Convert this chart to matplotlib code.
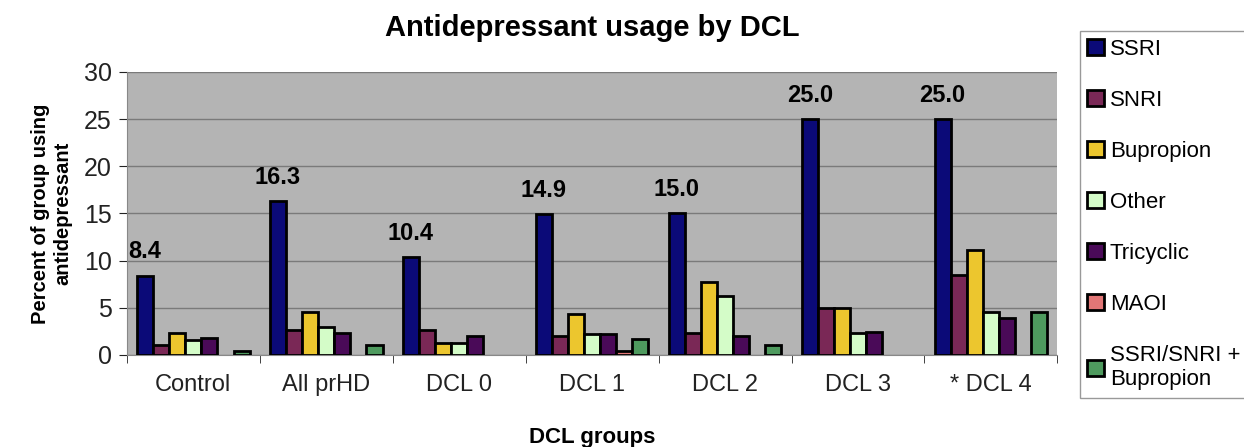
import numpy as np
import matplotlib.pyplot as plt

plt.rcParams['font.family'] = ['Liberation Sans', 'DejaVu Sans']

groups = ["Control", "All prHD", "DCL 0", "DCL 1", "DCL 2", "DCL 3", "* DCL 4"]
drug_names = ["SSRI", "SNRI", "Bupropion", "Other", "Tricyclic", "MAOI", "SSRI/SNRI +\nBupropion"]

ssri = [8.4, 16.3, 10.4, 14.9, 15.0, 25.0, 25.0]
snri = [1.0, 2.6, 2.6, 2.0, 2.3, 5.0, 8.5]
bupropion = [2.3, 4.6, 1.3, 4.3, 7.7, 5.0, 11.1]
other = [1.6, 3.0, 1.3, 2.2, 6.2, 2.3, 4.6]
tricyclic = [1.8, 2.3, 2.0, 2.2, 2.0, 2.4, 3.9]
maoi = [0, 0, 0, 0.4, 0, 0, 0]
combo = [0.4, 1.0, 0, 1.7, 1.0, 0, 4.6]

series = [ssri, snri, bupropion, other, tricyclic, maoi, combo]
colors = ["#0b0a78", "#7a2856", "#ecc62e", "#d4fcc8", "#4a0a58", "#e27676", "#4e9a5e"]

fig = plt.figure(figsize=(12.44, 4.47), dpi=100)
ax = fig.add_axes([0.102, 0.206, 0.748, 0.633])
ax.set_facecolor("#b4b4b4")

x = np.arange(len(groups))
w = 0.121
for i, (vals, c, name) in enumerate(zip(series, colors, drug_names)):
    pos = x + (i - 3) * w
    h = np.array(vals, dtype=float)
    h[h == 0] = np.nan  # empty cells: no bar drawn
    ax.bar(pos, h, width=w, color=c, edgecolor="black", linewidth=2, label=name, zorder=3)

# value labels on the SSRI bars
for xi, v in zip(x, ssri):
    ax.text(xi - 3 * w, v + 1.3, f"{v:.1f}", ha="center", va="bottom",
            fontsize=17, fontweight="bold", zorder=4)

ax.set_xlim(-0.5, len(groups) - 0.5)
ax.set_ylim(0, 30)
ax.set_yticks(range(0, 31, 5))
ax.yaxis.grid(True, color="#7a7a7a", linewidth=1, zorder=0)
ax.set_xticks(x)
ax.set_xticklabels(groups)
ax.set_xticks(np.arange(-0.5, len(groups), 1), minor=True)
ax.tick_params(axis="x", which="major", length=0, labelsize=17, pad=14)
ax.tick_params(axis="x", which="minor", length=6, color="#555555")
ax.tick_params(axis="y", length=6, labelsize=18, color="#555555", pad=5)
ax.tick_params(colors="#222222", which="both")
for s in ["top", "right"]:
    ax.spines[s].set_visible(False)
ax.spines["left"].set_color("#888888")
ax.spines["bottom"].set_color("#888888")

ax.set_xlabel("DCL groups", fontsize=16, fontweight="bold", labelpad=22)
ax.set_ylabel("Percent of group using\nantidepressant", fontsize=14.5, fontweight="bold", labelpad=8)
ax.set_title("Antidepressant usage by DCL", fontsize=21, fontweight="bold", pad=26)

fig.legend(loc="upper left", bbox_to_anchor=(0.859, 0.955), fontsize=16,
           labelspacing=1.35, handlelength=0.75, handleheight=0.75, handletextpad=0.25,
           borderpad=0.35, fancybox=False, edgecolor="#999999", framealpha=1)

fig.savefig("out.png", dpi=100)
